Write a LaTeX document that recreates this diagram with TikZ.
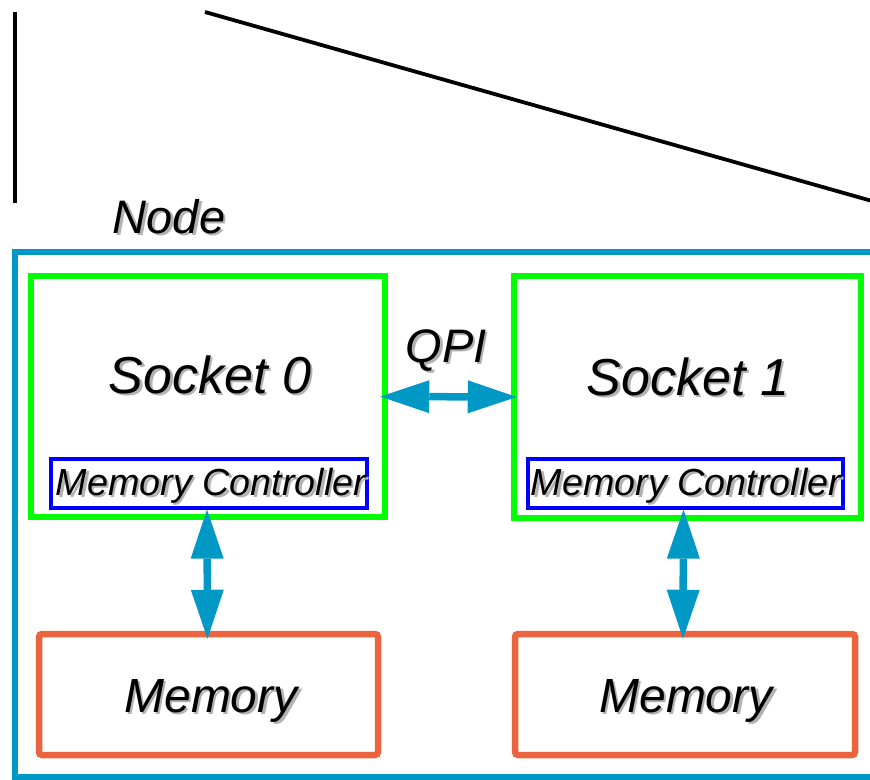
\documentclass[tikz,border=0pt]{standalone}
\usepackage{fontspec}
\setmainfont{Liberation Sans}
\usetikzlibrary{arrows.meta}
\definecolor{nodeblue}{RGB}{0,153,198}
\definecolor{sockgreen}{RGB}{0,255,0}
\definecolor{memred}{RGB}{235,100,64}
\definecolor{mcblue}{RGB}{0,0,255}
% grey drop shadow behind a label
\newcommand{\shad}[1]{\makebox[0pt][l]{\hspace{2.5pt}\raisebox{-2.5pt}{\textcolor{black!30}{#1}}}#1}
\begin{document}
\begin{tikzpicture}[x=1pt,y=-1pt,
  sock/.style={draw=sockgreen, line width=6.5pt, inner sep=0pt},
  mctl/.style={draw=mcblue, line width=3.2pt, inner sep=0pt, minimum height=49pt},
  mem/.style={draw=memred, line width=6.5pt, rounded corners=3pt, inner sep=0pt, minimum height=121pt},
  lbl/.style={anchor=base, inner sep=0pt, font=\itshape},
  fat/.style={nodeblue, line width=7.5pt, >={Triangle[length=49pt,width=33pt,line width=0pt]}, <->}]
  \useasboundingbox (0,0) rectangle (870,779);
  \clip (0,0) rectangle (870,779);

  % Drawing the zoom lines
  \draw[line width=3.8pt] (15,12) -- (15,203); % left edge
  \draw[line width=3.8pt] (205,12) -- (872,201); % slanted edge

  % The compute node
  \draw[nodeblue, line width=6pt] (15,251.5) rectangle (900,776.5); % outer box
  \node[lbl, font=\itshape\fontsize{47}{47}\selectfont] (nodelbl) at (169,233) {\shad{Node}};

  % Sockets and memory controllers
  \node[sock, minimum width=354pt, minimum height=241pt] (s0) at (208,396.5) {};
  \node[sock, minimum width=347pt, minimum height=242pt] (s1) at (687.5,397) {};
  \node[lbl, font=\itshape\fontsize{52}{52}\selectfont] (s0lbl) at (210,393) {\shad{Socket 0}};
  \node[lbl, font=\itshape\fontsize{52}{52}\selectfont] (s1lbl) at (688,395) {\shad{Socket 1}};
  \node[mctl, minimum width=316pt] (mc0) at (209,483.5) {};
  \node[mctl, minimum width=315pt] (mc1) at (685.5,483.5) {};
  \node[lbl, font=\itshape\fontsize{37.7}{38}\selectfont] (mc0lbl) at (211,495) {\shad{Memory Controller}};
  \node[lbl, font=\itshape\fontsize{37.7}{38}\selectfont] (mc1lbl) at (686,495) {\shad{Memory Controller}};

  % Memory banks
  \node[mem, minimum width=339pt] (mem0) at (208.5,694.5) {};
  \node[mem, minimum width=340pt] (mem1) at (685,694.5) {};
  \node[lbl, font=\itshape\fontsize{48}{48}\selectfont] (mem0lbl) at (211,712) {\shad{Memory}};
  \node[lbl, font=\itshape\fontsize{48}{48}\selectfont] (mem1lbl) at (686,712) {\shad{Memory}};

  % Links
  \node[lbl, font=\itshape\fontsize{47}{47}\selectfont] (qpi) at (446,362) {\shad{QPI}};
  \draw[fat] ([xshift=-8pt]s0.east) -- ([xshift=6pt]s1.west); % QPI link
  \draw[fat] ([xshift=-2pt]mc0.south) -- ([xshift=-1pt,yshift=-8pt]mem0.north);
  \draw[fat] ([xshift=-2pt]mc1.south) -- ([xshift=-2pt,yshift=-8pt]mem1.north);
\end{tikzpicture}
\end{document}
